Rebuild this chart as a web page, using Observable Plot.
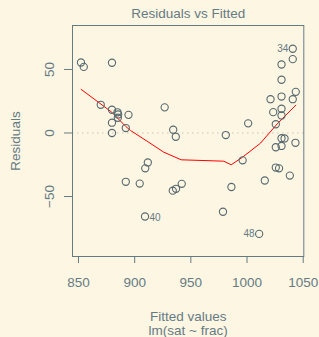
<!DOCTYPE html>
<html><head><meta charset="utf-8">
<script src="https://cdn.jsdelivr.net/npm/d3@7"></script>
<script src="https://cdn.jsdelivr.net/npm/@observablehq/plot@0.6"></script>
<style>body{margin:0;background:#fdf6e3}</style>
</head><body><div id="chart"></div>
<script>
const fitted = [852.2,854.7,879.8,869.8,879.8,884.7,885.3,885.0,894.5,879.8,892.1,879.8,
  926.7,934.3,936.6,911.7,909.4,892.1,904.5,933.9,936.8,941.9,909.2,
  1040.7,1030.7,1040.7,1030.7,1043.4,1020.9,1030.7,1040.7,1023.3,1030.7,1030.7,
  1001.0,1025.6,981.1,1030.7,1033.4,1025.6,1030.7,1043.1,996.1,1025.6,
  1028.5,1038.1,1015.8,986.1,978.6,1010.8];
const residuals = [55.5,52.0,55.3,22.2,18.3,16.3,14.6,12.0,14.3,8.1,3.9,0.0,
  20.2,2.6,-3.0,-23.2,-27.8,-38.4,-39.8,-45.4,-43.9,-40.0,-65.7,
  66.3,53.9,58.1,41.9,32.4,26.6,28.7,26.6,16.4,19.1,13.8,
  7.6,6.9,-1.6,-4.1,-4.3,-11.2,-10.2,-7.7,-21.5,-27.2,
  -27.8,-33.5,-37.4,-42.5,-62.0,-79.4];
const idLabels = ["40","34","48"];
const idIndex = [22,23,49];
const idSide = ["right","left","left"];
const smoothX = [852.4,879.6,892.1,896.3,911.1,925.9,941.4,979.3,985.9,995.9,1012.0,1026.9,1043.4];
const smoothY = [34.3,16.4,5.1,2.0,-6.5,-15.1,-21.1,-22.2,-25.0,-19.1,-8.0,7.2,21.9];
const xTicks = [850,900,950,1000,1050];
const yTicks = [-50,0,50];
const title = "Residuals vs Fitted";
const xLabel1 = "Fitted values";
const xLabel2 = "lm(sat ~ frac)";
const yLabel = "Residuals";

const pts = fitted.map((f,i)=>({f, r: residuals[i]}));
const ids = idLabels.map((l,k)=>({l, f: fitted[idIndex[k]], r: residuals[idIndex[k]], side: idSide[k]}));
const smooth = smoothX.map((x,i)=>({x, y: smoothY[i]}));
const txt = "#657b83";
const chart = Plot.plot({
  width: 319, height: 337,
  marginLeft: 72, marginRight: 15.7, marginTop: 25, marginBottom: 81,
  style: {background: "#fdf6e3", fontFamily: "'Liberation Sans', Arial, sans-serif", fontSize: "13.5px", color: txt},
  x: {domain: [844.66, 1050.53]},
  y: {domain: [-97.2, 84.6]},
  marks: [
    Plot.ruleY([0], {stroke: "#c8c4b8", strokeDasharray: "1.5,3.5", strokeWidth: 1}),
    Plot.line(smooth, {x: "x", y: "y", stroke: "red", strokeWidth: 1}),
    Plot.dot(pts, {x: "f", y: "r", r: 3.6, stroke: "#56696f", strokeWidth: 1.1, fill: "none"}),
    Plot.text(ids.filter(d=>d.side==="right"), {x: "f", y: "r", text: "l", textAnchor: "start", dx: 4.5, dy: 1.5, fontSize: 10, fill: txt}),
    Plot.text(ids.filter(d=>d.side==="left"), {x: "f", y: "r", text: "l", textAnchor: "end", dx: -4.5, dy: 0, fontSize: 10, fill: txt}),
    Plot.frame({stroke: txt, strokeWidth: 1}),
    Plot.axisX(xTicks, {tickSize: 7, tickPadding: 14, tickFormat: d => String(d), stroke: txt, fill: txt, fontSize: 13.5, label: null}),
    Plot.axisY(yTicks, {tickSize: 8, tickFormat: () => "", stroke: txt, label: null}),
    Plot.text(yTicks, {y: d=>d, frameAnchor: "left", dx: -18.7, rotate: -90, textAnchor: "middle", lineAnchor: "bottom", text: d=>String(d).replace("-", "\u2212"), fill: txt, fontSize: 13.5}),
    Plot.text([title], {frameAnchor: "top", dy: -8, lineAnchor: "bottom", text: d=>d, fill: txt, fontSize: 13.5}),
    Plot.text([xLabel1], {frameAnchor: "bottom", dy: 64.5, lineAnchor: "bottom", text: d=>d, fill: txt, fontSize: 13.5}),
    Plot.text([xLabel2], {frameAnchor: "bottom", dy: 78, lineAnchor: "bottom", text: d=>d, fill: txt, fontSize: 13.5}),
    Plot.text([yLabel], {frameAnchor: "left", dx: -52.5, rotate: -90, textAnchor: "middle", lineAnchor: "bottom", text: d=>d, fill: txt, fontSize: 13.5})
  ]
});
document.getElementById("chart").appendChild(chart);
</script>
</body></html>
